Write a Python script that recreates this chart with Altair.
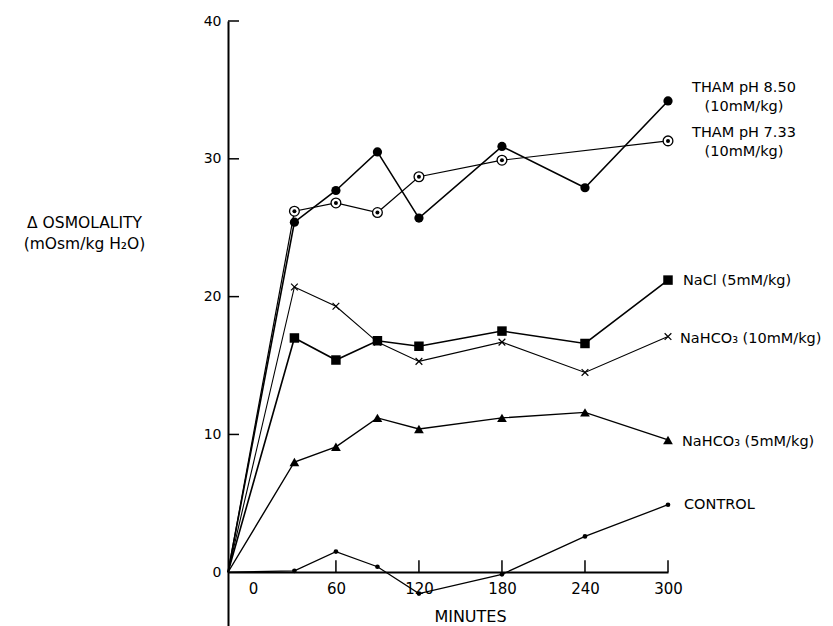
import altair as alt
import pandas as pd

# ---------------- data ----------------
origin_minute = -18          # lines start at the axis corner
minutes = [30, 60, 90, 120, 180, 240, 300]
minutes_tham733 = [30, 60, 90, 120, 180, 300]

tham_850 = [25.4, 27.7, 30.5, 25.7, 30.9, 27.9, 34.2]
tham_733 = [26.2, 26.8, 26.1, 28.7, 29.9, 31.3]
nacl_5 = [17.0, 15.4, 16.8, 16.4, 17.5, 16.6, 21.2]
nahco3_10 = [20.7, 19.3, 16.7, 15.3, 16.7, 14.5, 17.1]
nahco3_5 = [8.0, 9.1, 11.2, 10.4, 11.2, 11.6, 9.6]
control = [0.1, 1.5, 0.4, -1.55, -0.15, 2.6, 4.9]

x_ticks = [0, 60, 120, 180, 240, 300]
y_ticks = [0, 10, 20, 30, 40]

labels = {
    "tham850": ["THAM pH 8.50", "(10mM/kg)"],
    "tham733": ["THAM pH 7.33", "(10mM/kg)"],
    "nacl": ["NaCl (5mM/kg)"],
    "nahco3_10": ["NaHCO₃ (10mM/kg)"],
    "nahco3_5": ["NaHCO₃ (5mM/kg)"],
    "control": ["CONTROL"],
}

series = [
    ("tham850", minutes, tham_850),
    ("tham733", minutes_tham733, tham_733),
    ("nacl", minutes, nacl_5),
    ("nahco3_10", minutes, nahco3_10),
    ("nahco3_5", minutes, nahco3_5),
    ("control", minutes, control),
]

# ---------------- styles ----------------
FONT = "DejaVu Sans"
LABEL_SIZE = 14.5
style = {
    "tham850": dict(width=1.6, label_align="center", label_dx=76, label_dy=[-13, 6]),
    "tham733": dict(width=1.2, label_align="center", label_dx=76, label_dy=[-8, 11]),
    "nacl": dict(width=1.6, label_align="left", label_dx=15, label_dy=[1]),
    "nahco3_10": dict(width=1.1, label_align="left", label_dx=12, label_dy=[2]),
    "nahco3_5": dict(width=1.4, label_align="left", label_dx=14, label_dy=[2]),
    "control": dict(width=1.3, label_align="left", label_dx=16, label_dy=[0]),
}

x_scale = alt.Scale(domain=[origin_minute, 300], nice=False, zero=False)
y_scale = alt.Scale(domain=[-3.9, 40], nice=False, zero=False)

X = alt.X(
    "minute:Q",
    scale=x_scale,
    axis=alt.Axis(
        orient="bottom", offset=-54, values=x_ticks, tickSize=0, grid=False,
        domainColor="black", domainWidth=2, labelFlush=False,
        labelFontSize=15, labelFont=FONT, labelColor="black", labelPadding=9,
        title="MINUTES", titleFont=FONT, titleFontSize=16, titleFontWeight="normal",
        titleColor="black", titleX=242, titleY=44, titleAlign="center",
        titleBaseline="middle",
    ),
)
Y = alt.Y(
    "value:Q",
    scale=y_scale,
    axis=alt.Axis(
        values=y_ticks, tickSize=0, grid=False, domainColor="black", domainWidth=2,
        labelFlush=False, labelFontSize=14, labelFont=FONT, labelColor="black",
        labelPadding=7,
        title=["Δ OSMOLALITY", "(mOsm/kg H₂O)"], titleAngle=0, titleFont=FONT,
        titleFontSize=15.5, titleFontWeight="normal", titleColor="black",
        titleX=-144, titleY=201, titleAlign="center", titleBaseline="middle",
        titleLineHeight=21,
    ),
)

layers = []

# axis tick marks pointing inward
xt = pd.DataFrame({"minute": x_ticks[1:], "value": [0] * (len(x_ticks) - 1)})
layers.append(
    alt.Chart(xt).mark_rule(color="black", strokeWidth=1.5, yOffset=-12, y2Offset=0)
    .encode(x=X, y=Y, y2=alt.Y2("value"))
)
yt = pd.DataFrame({"value": y_ticks[1:]})
layers.append(
    alt.Chart(yt).mark_rule(color="black", strokeWidth=1.5)
    .encode(y=Y, x=alt.value(0), x2=alt.value(11))
)

for key, xs, ys in series:
    st = style[key]
    line_df = pd.DataFrame({"minute": [origin_minute] + xs, "value": [0] + ys})
    pt_df = pd.DataFrame({"minute": xs, "value": ys})
    layers.append(
        alt.Chart(line_df).mark_line(color="black", strokeWidth=st["width"])
        .encode(x=X, y=Y)
    )
    if key == "tham850":
        layers.append(alt.Chart(pt_df).mark_point(
            shape="circle", filled=True, color="black", size=85, opacity=1)
            .encode(x=X, y=Y))
    elif key == "tham733":
        layers.append(alt.Chart(pt_df).mark_point(
            shape="circle", filled=True, fill="white", stroke="black",
            strokeWidth=1.3, size=95, opacity=1).encode(x=X, y=Y))
        layers.append(alt.Chart(pt_df).mark_point(
            shape="circle", filled=True, color="black", size=16, opacity=1)
            .encode(x=X, y=Y))
    elif key == "nacl":
        layers.append(alt.Chart(pt_df).mark_point(
            shape="square", filled=True, color="black", size=90, opacity=1)
            .encode(x=X, y=Y))
    elif key == "nahco3_10":
        layers.append(alt.Chart(pt_df).mark_point(
            shape="M-1,-1L1,1M-1,1L1,-1", filled=False, stroke="black",
            strokeWidth=1.2, size=45, opacity=1).encode(x=X, y=Y))
    elif key == "nahco3_5":
        layers.append(alt.Chart(pt_df).mark_point(
            shape="triangle-up", filled=True, color="black", size=95, opacity=1)
            .encode(x=X, y=Y))
    else:
        layers.append(alt.Chart(pt_df).mark_point(
            shape="circle", filled=True, color="black", size=22, opacity=1)
            .encode(x=X, y=Y))

    # label at the right end of the series
    for line_text, dy in zip(labels[key], st["label_dy"]):
        lab_df = pd.DataFrame({"minute": [xs[-1]], "value": [ys[-1]], "txt": [line_text]})
        layers.append(
            alt.Chart(lab_df).mark_text(
                align=st["label_align"], baseline="middle", dx=st["label_dx"], dy=dy,
                font=FONT, fontSize=LABEL_SIZE, color="black",
            ).encode(x=X, y=Y, text="txt:N")
        )

chart = (
    alt.layer(*layers)
    .properties(
        width=440, height=605,
        autosize=alt.AutoSizeParams(type="none"),
        padding={"left": 220, "top": 13, "right": 157, "bottom": 0},
        background="white",
    )
    .configure_view(stroke=None)
)

chart.save("out.html", embed_options={"renderer": "svg", "actions": False})
